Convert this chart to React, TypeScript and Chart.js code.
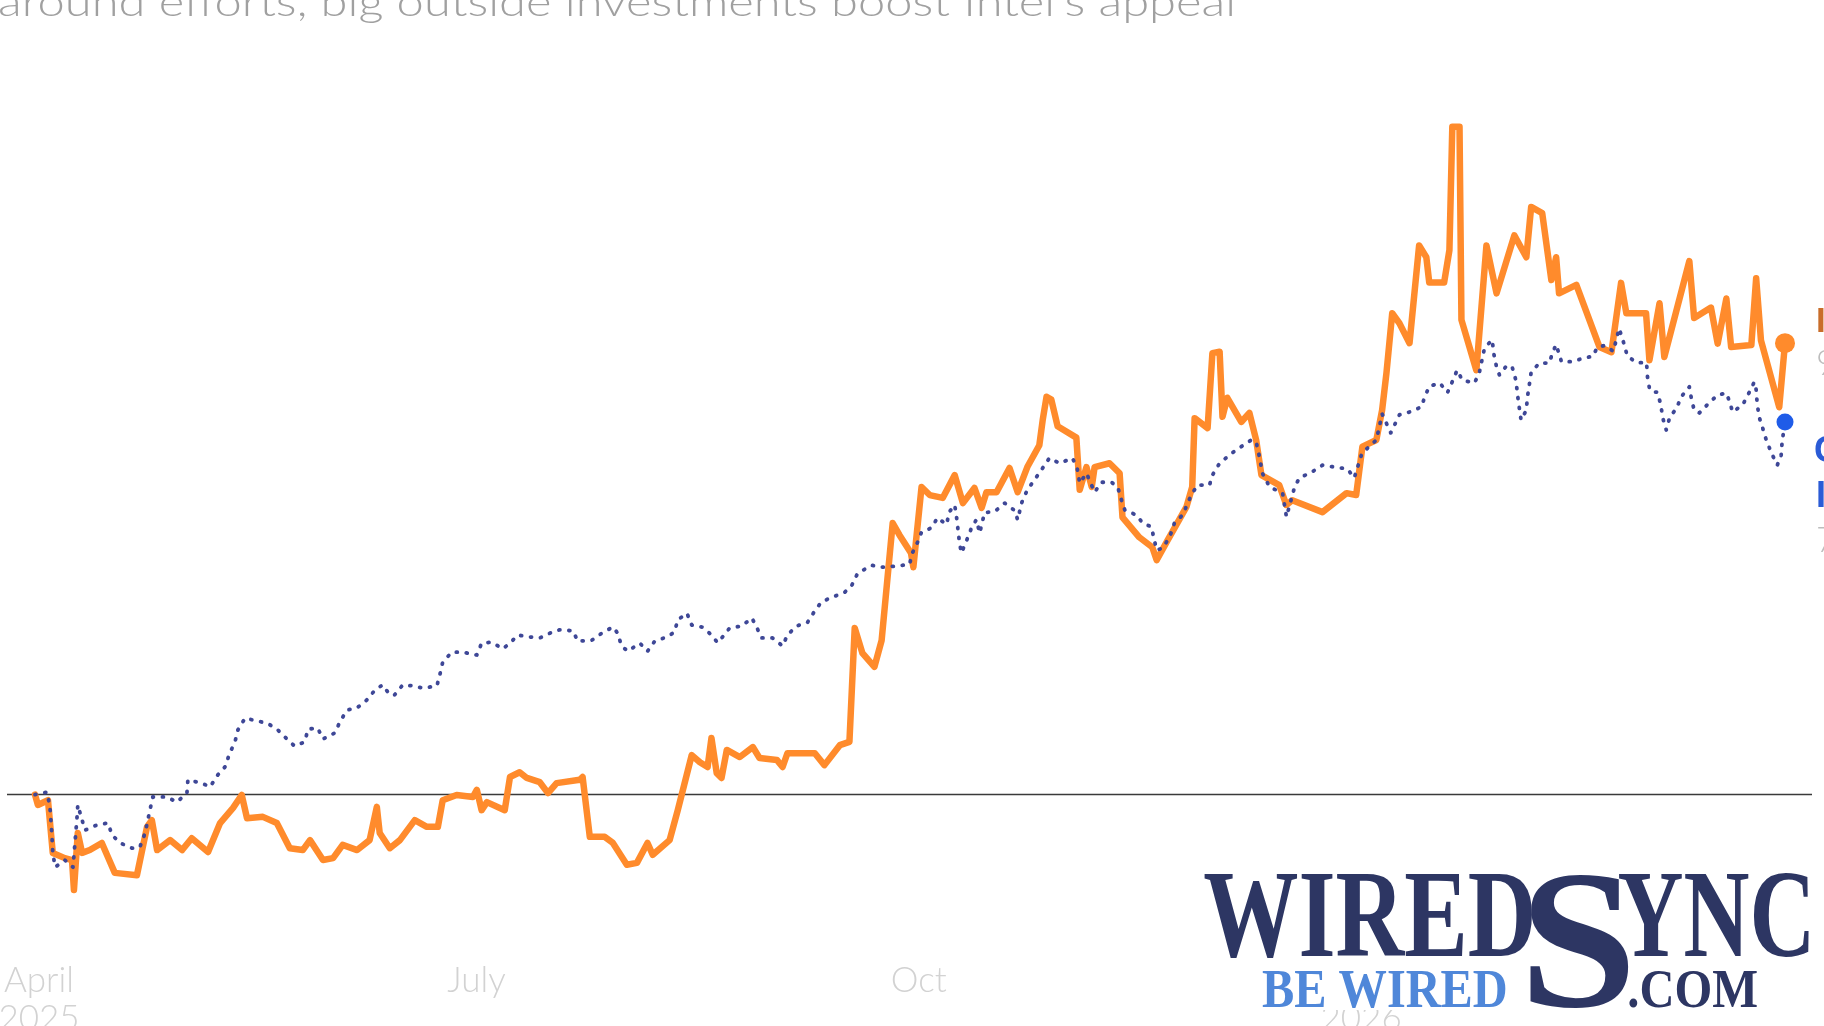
import React, { useEffect, useRef } from "react";
import { Chart, registerables } from "chart.js";

Chart.register(...registerables);

// ---- data: days since 1 April 2025, % change ----
const intelDays = [
  0, 0.6, 2.7, 3.7, 6.2, 7.7, 8.1, 8.9, 9.8, 11.4, 13.9, 16.6, 21.2, 23.3, 24.3, 25.4, 28.1, 30.6, 32.6, 36.0,
  38.5, 41.2, 43.0, 44.1, 47.4, 50.3, 53.0, 55.7, 57.2, 59.9, 62.0, 64.0, 67.0, 69.6, 71.1, 71.7, 73.8, 75.9, 79.0, 81.5,
  83.8, 84.8, 87.7, 91.1, 91.9, 92.9, 94.0, 97.7, 98.8, 100.8, 102.3, 105.0, 106.7, 108.5, 113.3, 113.9, 115.4, 118.5, 120.2, 123.1,
  125.2, 127.4, 128.5, 132.0, 133.7, 136.6, 138.3, 139.9, 140.7, 141.8, 142.8, 143.9, 146.6, 149.3, 150.7, 154.3, 155.5, 156.5, 162.2, 164.2,
  167.4, 169.4, 170.5, 172.1, 174.6, 176.1, 178.4, 179.8, 182.2, 182.7, 184.4, 186.1, 188.8, 191.3, 193.0, 195.4, 196.9, 197.9, 200.0, 202.7,
  204.4, 206.4, 208.9, 209.6, 210.4, 211.4, 212.7, 216.6, 217.3, 218.7, 219.8, 220.4, 223.5, 225.6, 226.2, 229.7, 232.4, 233.3, 235.6, 239.5,
  240.7, 241.2, 243.9, 244.9, 246.4, 247.0, 248.0, 250.9, 252.6, 254.0, 255.1, 258.8, 260.3, 261.5, 267.8, 272.8, 274.8, 276.1, 279.0, 280.2,
  281.1, 282.3, 283.8, 285.9, 287.9, 289.4, 290.0, 293.1, 294.2, 294.8, 296.3, 296.7, 299.8, 301.9, 304.0, 307.7, 310.2, 311.2, 313.5, 315.4,
  316.4, 317.0, 320.6, 325.4, 327.9, 329.9, 331.0, 335.1, 335.8, 337.9, 338.9, 344.1, 345.1, 348.6, 350.0, 351.8, 352.8, 357.0, 358.0, 359.0,
  362.8, 364.0,
];
const intelPct = [
  0, -2.2, -1.2, -12.3, -13.4, -13.8, -20.1, -8.1, -12.3, -11.7, -10.2, -16.5, -17.0, -6.8, -5.4, -11.7, -9.6, -11.7, -9.2, -12.1,
  -6.0, -2.8, -0.1, -5.0, -4.7, -6.0, -11.3, -11.7, -9.6, -13.8, -13.4, -10.6, -11.7, -9.6, -2.6, -8.1, -11.3, -9.6, -5.4, -6.8,
  -6.8, -1.2, -0.1, -0.5, 1.0, -3.3, -1.6, -3.3, 3.7, 4.7, 3.5, 2.6, 0.3, 2.4, 3.1, 3.7, -8.9, -8.9, -10.2, -14.8,
  -14.4, -10.2, -12.7, -9.6, -3.3, 8.3, 6.8, 5.8, 11.9, 4.5, 3.5, 9.4, 7.9, 10.0, 7.7, 7.3, 5.8, 8.7, 8.7, 6.2,
  10.4, 11.1, 35.1, 29.8, 26.9, 32.5, 57.2, 54.7, 50.9, 47.9, 64.8, 63.1, 62.5, 67.3, 61.4, 64.6, 60.4, 63.7, 63.7, 68.8,
  63.7, 69.0, 73.6, 78.9, 83.8, 83.2, 77.6, 75.2, 64.2, 69.0, 64.8, 69.0, 69.8, 67.7, 58.4, 54.2, 52.1, 49.4, 53.6, 60.6,
  64.8, 79.3, 77.2, 93.0, 93.3, 79.6, 83.6, 78.5, 80.4, 74.7, 67.3, 65.2, 61.0, 62.0, 59.5, 63.5, 63.1, 73.3, 74.7, 81.0,
  88.8, 101.4, 99.3, 95.1, 115.7, 113.2, 107.9, 107.9, 114.7, 140.7, 140.7, 100.0, 89.4, 115.7, 105.6, 117.8, 113.2, 123.8, 122.5, 108.4,
  113.2, 105.6, 107.4, 94.3, 93.2, 107.8, 101.4, 101.4, 91.5, 103.5, 92.2, 112.4, 100.4, 102.6, 95.0, 104.5, 94.3, 94.7, 108.8, 95.7,
  81.6, 95.1,
];

const chipDays = [
  0, 2.5, 3.1, 3.5, 3.7, 4.2, 6.2, 7.9, 8.7, 8.9, 10.4, 12.9, 15.2, 16.0, 17.7, 20.2, 21.8, 22.9, 23.9, 24.5,
  27.4, 29.5, 31.6, 31.8, 34.7, 36.4, 38.0, 39.5, 40.5, 41.6, 42.2, 43.7, 46.2, 48.4, 50.5, 52.4, 54.0, 56.1, 56.8, 58.8,
  59.9, 62.4, 63.4, 64.9, 66.9, 69.0, 70.7, 72.3, 73.8, 74.8, 76.5, 78.6, 80.7, 83.6, 84.2, 84.8, 86.7, 89.0, 91.9, 92.9,
  95.0, 97.3, 98.8, 100.4, 102.9, 105.0, 107.1, 109.1, 111.9, 112.9, 115.8, 117.9, 120.2, 121.2, 122.0, 123.3, 125.8, 127.4, 128.9, 131.4,
  133.0, 133.7, 135.6, 136.6, 138.7, 140.3, 142.0, 143.0, 144.5, 147.0, 149.1, 150.1, 151.1, 153.4, 155.5, 156.5, 158.4, 160.7, 162.2, 163.6,
  165.9, 168.4, 169.9, 171.1, 174.0, 176.3, 178.8, 181.9, 182.5, 183.6, 184.4, 186.5, 187.7, 189.6, 190.2, 191.3, 191.7, 192.3, 192.7, 193.8,
  194.8, 195.8, 196.5, 197.5, 199.6, 201.7, 203.7, 204.4, 205.2, 206.4, 207.9, 209.4, 211.0, 213.1, 215.8, 216.8, 217.3, 218.7, 220.4, 221.8,
  223.9, 225.2, 226.0, 226.7, 229.1, 230.4, 232.2, 233.3, 234.5, 236.0, 237.0, 238.7, 240.5, 241.8, 244.3, 244.9, 246.4, 248.9, 250.9, 253.0,
  254.0, 254.7, 255.3, 256.8, 259.5, 260.3, 262.0, 263.0, 265.5, 267.8, 270.3, 273.0, 274.4, 276.0, 279.0, 280.2, 282.0, 283.8, 286.3, 288.4,
  289.0, 290.0, 292.2, 293.8, 294.8, 295.8, 296.9, 299.4, 300.4, 301.5, 303.1, 303.4, 304.0, 304.6, 306.2, 307.3, 308.1, 308.3, 308.7, 309.1,
  310.2, 310.4, 310.8, 311.2, 312.9, 315.0, 315.6, 316.4, 317.5, 319.8, 322.2, 324.0, 325.0, 326.5, 328.3, 329.5, 330.5, 331.2, 333.1, 335.2,
  335.4, 335.8, 336.4, 337.4, 338.2, 338.5, 339.3, 340.0, 341.5, 342.4, 344.1, 344.5, 345.1, 346.2, 348.2, 350.0, 351.8, 352.5, 353.1, 355.2,
  356.5, 357.6, 358.0, 358.2, 358.6, 359.3, 360.1, 361.2, 362.4, 363.2, 363.4, 364.0,
];
const chipPct = [
  0, 0.5, -2.6, -8.1, -12.3, -15.3, -13.8, -15.3, -5.4, -2.2, -7.5, -6.4, -6.0, -8.5, -10.2, -11.3, -11.1, -8.1, -3.3, -0.5,
  -0.5, -1.6, 0.3, 3.1, 2.4, 1.6, 4.1, 5.8, 8.7, 11.1, 13.6, 16.1, 15.5, 15.0, 13.6, 11.7, 10.2, 11.1, 13.8, 14.0,
  11.7, 13.0, 15.3, 17.8, 18.2, 19.9, 22.0, 23.1, 21.0, 21.0, 23.1, 22.9, 22.4, 22.9, 25.2, 27.9, 30.0, 30.0, 29.4, 31.9,
  32.1, 30.7, 31.9, 33.6, 33.2, 33.0, 34.0, 34.7, 34.5, 32.3, 32.5, 34.0, 35.3, 34.0, 31.3, 30.2, 31.9, 30.2, 32.3, 33.2,
  34.2, 36.8, 38.2, 35.7, 35.3, 34.0, 32.0, 33.2, 35.1, 35.5, 37.2, 35.3, 33.0, 33.0, 31.3, 33.6, 35.5, 36.3, 38.7, 40.6,
  41.6, 42.6, 44.1, 46.6, 48.3, 47.9, 48.1, 48.5, 50.9, 53.2, 55.3, 56.2, 58.3, 56.9, 59.6, 61.0, 58.3, 53.0, 50.9, 53.6,
  56.2, 57.9, 55.1, 59.4, 59.6, 61.4, 59.9, 57.9, 61.4, 64.2, 66.3, 68.5, 70.9, 69.8, 70.9, 68.6, 65.6, 67.7, 63.7, 65.8,
  65.8, 64.8, 62.0, 59.9, 58.9, 57.2, 56.4, 51.5, 51.9, 54.2, 57.2, 58.9, 63.1, 65.2, 65.2, 67.3, 69.8, 71.9, 73.3, 74.7,
  74.3, 71.1, 67.7, 64.8, 63.5, 58.5, 64.8, 66.7, 67.9, 69.4, 69.0, 68.6, 66.7, 71.9, 74.7, 80.2, 76.2, 80.0, 80.7, 81.7,
  83.6, 86.0, 86.7, 84.7, 87.0, 89.4, 87.3, 86.7, 88.8, 94.1, 95.8, 93.0, 90.1, 88.4, 90.5, 89.9, 87.0, 84.7, 81.7, 78.9,
  81.0, 83.6, 86.2, 89.0, 90.9, 90.9, 93.0, 94.8, 91.2, 91.2, 92.0, 92.3, 94.3, 94.6, 93.4, 98.2, 95.0, 92.4, 91.0, 91.0,
  88.0, 85.6, 84.8, 84.8, 82.1, 79.6, 76.8, 79.4, 81.5, 83.8, 85.9, 83.6, 81.0, 80.4, 82.5, 84.2, 84.6, 82.7, 80.6, 82.1,
  84.6, 86.9, 85.3, 82.5, 79.6, 77.4, 74.7, 71.9, 69.4, 71.5, 74.3, 78.5,
];

const tickDays = [0, 91, 183, 275];
const tickLines = [["April", "2025"], ["July"], ["Oct"], ["Jan", "2026"]];
const subtitle = "around efforts, big outside investments boost Intel's appeal";
const intelLabel = ["Intel", "95%"];
const chipLabel = ["Chip", "Index", "78%"];
const brandTop = ["WIRED", "S", "YNC"];
const brandBottom = ["BE WIRED", ".COM"];

function fitText(ctx: CanvasRenderingContext2D, text: string, x0: number, x1: number, baseline: number, cap: number, fontTpl: string, color: string) {
  ctx.save();
  ctx.font = fontTpl.replace("SIZE", "100px");
  const h = ctx.measureText("H").actualBoundingBoxAscent / 100;
  const size = cap / h;
  ctx.font = fontTpl.replace("SIZE", size.toFixed(2) + "px");
  const m = ctx.measureText(text);
  const ink = m.actualBoundingBoxLeft + m.actualBoundingBoxRight;
  const sx = (x1 - x0) / ink;
  ctx.translate(x0 + m.actualBoundingBoxLeft * sx, baseline);
  ctx.scale(sx, 1);
  ctx.fillStyle = color;
  ctx.textBaseline = "alphabetic";
  ctx.textAlign = "left";
  ctx.fillText(text, 0, 0);
  ctx.restore();
}

const overlayPlugin = {
  id: "overlay",
  beforeDatasetsDraw(chart: any) {
    const ctx = chart.ctx as CanvasRenderingContext2D;
    const y0 = chart.scales.y.getPixelForValue(0);
    ctx.save();
    ctx.strokeStyle = "#3a3a3a";
    ctx.lineWidth = 1.5;
    ctx.beginPath();
    ctx.moveTo(7, y0);
    ctx.lineTo(1812, y0);
    ctx.stroke();
    ctx.restore();
  },
  afterDraw(chart: any) {
    const ctx = chart.ctx as CanvasRenderingContext2D;
    const xs = chart.scales.x;

    // subtitle (cut at top)
    ctx.save();
    ctx.font = "300 40px Lato, 'Open Sans', sans-serif";
    ctx.fillStyle = "#a0a0a0";
    ctx.textBaseline = "alphabetic";
    const sw = ctx.measureText(subtitle).width;
    ctx.translate(-2, 16);
    ctx.scale(1238 / sw, 1);
    ctx.fillText(subtitle, 0, 0);
    ctx.restore();

    // x tick labels
    ctx.save();
    ctx.font = "300 35px Lato, 'Liberation Sans', Arial, sans-serif";
    ctx.fillStyle = "#d2d2d2";
    ctx.textAlign = "center";
    ctx.textBaseline = "alphabetic";
    tickDays.forEach((d, i) => {
      const x = xs.getPixelForValue(d) + 4;
      tickLines[i].forEach((t, j) => ctx.fillText(t, x, 992 + j * 38));
    });
    ctx.restore();

    // right-edge series labels (clipped by canvas edge)
    ctx.save();
    ctx.textAlign = "left";
    ctx.textBaseline = "alphabetic";
    ctx.font = "bold 35px 'Liberation Sans', Arial, sans-serif";
    ctx.fillStyle = "#c96d2a";
    ctx.fillText(intelLabel[0], 1816, 332);
    ctx.font = "300 35px Lato, sans-serif";
    ctx.fillStyle = "#bdbdbd";
    ctx.fillText(intelLabel[1], 1816, 375);
    ctx.font = "bold 36px 'Liberation Sans', Arial, sans-serif";
    ctx.fillStyle = "#2b5bd6";
    ctx.fillText(chipLabel[0], 1814, 462);
    ctx.fillText(chipLabel[1], 1816, 507);
    ctx.font = "300 35px Lato, sans-serif";
    ctx.fillStyle = "#bdbdbd";
    ctx.fillText(chipLabel[2], 1816, 552);
    ctx.restore();

    // watermark
    ctx.save();
    ctx.fillStyle = "#ffffff";
    ctx.fillRect(1195, 866, 629, 144);
    ctx.restore();
    const serif = "bold SIZE 'Liberation Serif', 'DejaVu Serif', serif";
    fitText(ctx, brandTop[0], 1204, 1532, 956, 81, serif, "#2d3663");
    fitText(ctx, brandTop[1], 1530, 1629, 1006, 128, serif, "#2d3663");
    fitText(ctx, brandTop[2], 1619, 1809, 956, 81, serif, "#2d3663");
    fitText(ctx, brandBottom[0], 1262, 1506, 1007, 36, serif, "#4f87d9");
    fitText(ctx, brandBottom[1], 1629, 1757, 1007, 36, serif, "#2d3663");
  },
};

export default function App() {
  const ref = useRef<HTMLCanvasElement>(null);
  useEffect(() => {
    const canvas = ref.current;
    if (!canvas) return;
    const chipLast = chipDays.length - 1;
    const intelLast = intelDays.length - 1;
    const chart = new Chart(canvas, {
      type: "line",
      data: {
        datasets: [
          {
            label: "Chip index",
            data: chipDays.map((d, i) => ({ x: d, y: chipPct[i] })),
            borderColor: "#3e4797",
            borderWidth: 3.8,
            borderDash: [1, 9],
            borderCapStyle: "round",
            borderJoinStyle: "round",
            tension: 0,
            fill: false,
            pointRadius: (c: any) => (c.dataIndex === chipLast ? 8.5 : 0),
            pointBackgroundColor: "#1f5ce8",
            pointBorderWidth: 0,
            clip: false,
          } as any,
          {
            label: "Intel",
            data: intelDays.map((d, i) => ({ x: d, y: intelPct[i] })),
            borderColor: "#ff8b2c",
            borderWidth: 6.5,
            borderCapStyle: "round",
            borderJoinStyle: "round",
            tension: 0,
            fill: false,
            pointRadius: (c: any) => (c.dataIndex === intelLast ? 10 : 0),
            pointBackgroundColor: "#ff8b2c",
            pointBorderWidth: 0,
            clip: false,
          } as any,
        ],
      },
      options: {
        responsive: false,
        animation: false,
        devicePixelRatio: 1,
        layout: { padding: { left: 35, right: 39, top: 82.6, bottom: 112.8 } },
        scales: {
          x: { type: "linear", min: 0, max: 364, display: false },
          y: { type: "linear", min: -25, max: 150, display: false },
        },
        plugins: { legend: { display: false }, tooltip: { enabled: false } },
        events: [],
      },
      plugins: [overlayPlugin],
    });
    return () => chart.destroy();
  }, []);
  return (
    <div style={{ position: "fixed", left: 0, top: 0, width: 1824, height: 1026, overflow: "hidden", background: "#fff" }}>
      <canvas ref={ref} width={1824} height={1026} style={{ display: "block", width: 1824, height: 1026 }} />
    </div>
  );
}
